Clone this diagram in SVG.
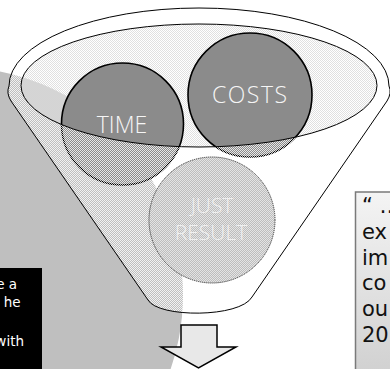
<svg xmlns="http://www.w3.org/2000/svg" width="390" height="369" viewBox="0 0 390 369">
<defs>
<pattern id="dither" width="2" height="2" patternUnits="userSpaceOnUse">
<rect x="0" y="0" width="1" height="1" fill="#ffffff" fill-opacity="0.8"/>
<rect x="1" y="1" width="1" height="1" fill="#ffffff" fill-opacity="0.8"/>
</pattern>
<pattern id="surface" width="2" height="2" patternUnits="userSpaceOnUse">
<rect x="0" y="0" width="2" height="2" fill="#ffffff" fill-opacity="0.35"/>
<rect x="0" y="0" width="1" height="1" fill="#d4d4d4" fill-opacity="0.7"/>
<rect x="1" y="1" width="1" height="1" fill="#d4d4d4" fill-opacity="0.7"/>
</pattern>
<pattern id="justfill" width="2" height="2" patternUnits="userSpaceOnUse">
<rect x="0" y="0" width="2" height="2" fill="#bdbdbd"/>
<rect x="0" y="0" width="1" height="1" fill="#e4e4e4"/>
<rect x="1" y="1" width="1" height="1" fill="#e4e4e4"/>
</pattern>
<linearGradient id="boxgrad" x1="0" y1="0" x2="0" y2="1">
<stop offset="0" stop-color="#f4f4f4"/>
<stop offset="1" stop-color="#cfcfcf"/>
</linearGradient>
<style>
.big{fill:#8b8b8b;stroke:#000;stroke-width:1.6}
.lbl{font-family:"Open Sans","Liberation Sans",Arial,sans-serif;font-weight:300;fill:#f6f6f6;text-anchor:middle}
.line{fill:none;stroke:#000;stroke-width:1}
.quote{font-family:"DejaVu Sans","Liberation Sans",sans-serif;font-size:21px;fill:#111}
.note{font-family:"DejaVu Sans","Liberation Sans",sans-serif;font-size:13.5px;fill:#fff;text-anchor:end}
</style>
</defs>

<g id="background">
<circle cx="-45" cy="295" r="228" fill="#bfbfbf"/>
</g>

<g id="surface-fill">
<ellipse cx="199" cy="85.5" rx="178" ry="61.5" fill="url(#surface)"/>
</g>

<g id="time">
<circle class="big" cx="122.5" cy="124" r="61"/>
<text class="lbl" x="122" y="133" font-size="23">TIME</text>
</g>

<g id="costs">
<circle class="big" cx="250" cy="95" r="62"/>
<text class="lbl" x="249.5" y="103" font-size="23" textLength="75">COSTS</text>
</g>

<g id="funnel">
<path d="M 148,300 L 11,101 Q 6,93 9,86 A 190 78 0 0 1 389,86 Q 392,93 387,101 L 252,297 C 240,318 158,318 148,300 Z M 21,85.5 A 178 61.5 0 0 0 377,85.5 A 178 61.5 0 0 0 21,85.5 Z" fill="url(#dither)" fill-rule="evenodd"/>
<path class="line" d="M 148,300 L 11,101 Q 6,93 9,86 A 190 78 0 0 1 389,86 Q 392,93 387,101 L 252,297 C 240,318 158,318 148,300 Z"/>
<ellipse class="line" cx="199" cy="85.5" rx="178" ry="61.5"/>
</g>

<g id="just-result">
<circle cx="212" cy="220" r="63" fill="url(#justfill)" stroke="#3a3a3a" stroke-width="1" stroke-dasharray="1.2 0.8"/>
<text class="lbl" x="212" y="213" font-size="21" fill-opacity="0.9">JUST</text>
<text class="lbl" x="211" y="240" font-size="21" fill-opacity="0.9">RESULT</text>
</g>

<g id="arrow">
<path d="M 181,325 L 217,325 L 217,347 L 236,347 L 198.5,368 L 161,347 L 181,347 Z" fill="#e8e8e8" stroke="#000" stroke-width="1.5" stroke-linejoin="miter"/>
</g>

<g id="note-box">
<rect x="-5" y="268" width="47" height="110" fill="#000"/>
<text class="note" x="17" y="289">e a</text>
<text class="note" x="20.5" y="307">he</text>
<text class="note" x="24" y="346">with</text>
</g>

<g id="quote-box">
<rect x="355.5" y="192" width="45" height="190" fill="url(#boxgrad)" stroke="#7a7a7a" stroke-width="1.5"/>
<text class="quote" x="362" y="213">“ …</text>
<text class="quote" x="362" y="239">ex</text>
<text class="quote" x="362" y="265">im</text>
<text class="quote" x="362" y="290">co</text>
<text class="quote" x="362" y="316">ou</text>
<text class="quote" x="362" y="342">20</text>
</g>
</svg>
